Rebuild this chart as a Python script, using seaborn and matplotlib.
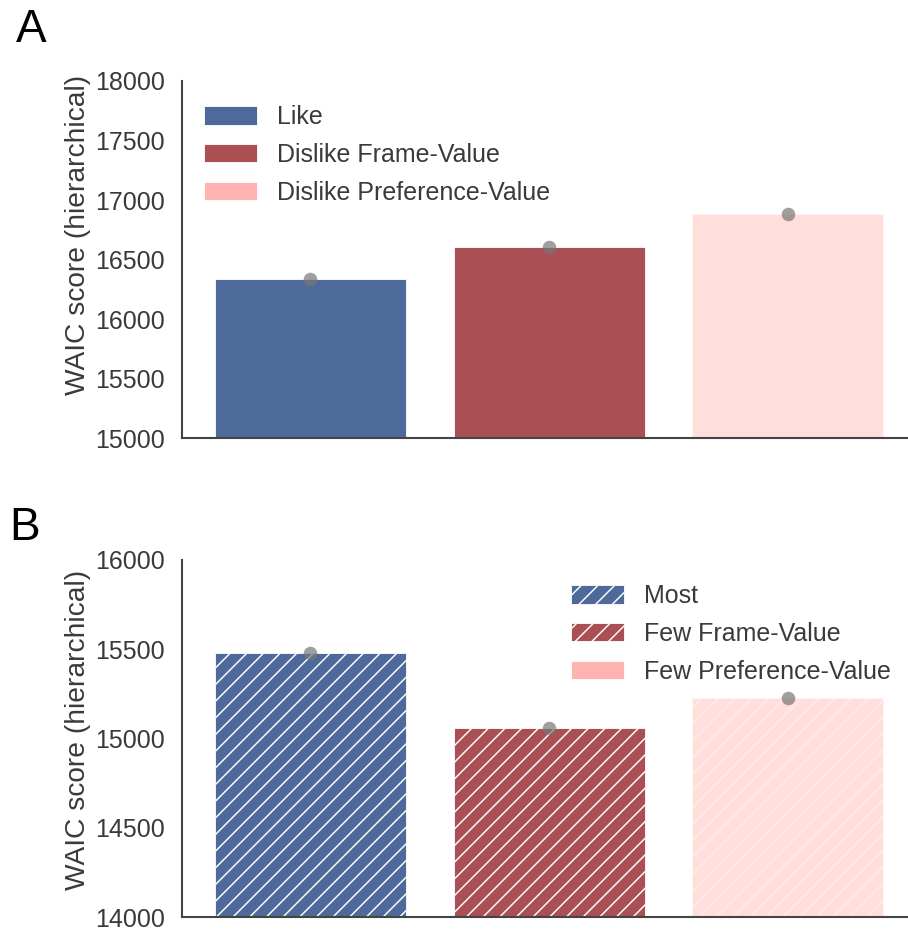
import matplotlib
matplotlib.use("Agg")
import matplotlib.pyplot as plt
from matplotlib.patches import Patch
import seaborn as sns
import pandas as pd

# WAIC scores for the hierarchical models
models_a = ["Like", "Dislike Frame-Value", "Dislike Preference-Value"]
waic_a = [16336, 16605, 16882]

models_b = ["Most", "Few Frame-Value", "Few Preference-Value"]
waic_b = [15479, 15059, 15227]

yticks_a = [15000, 15500, 16000, 16500, 17000, 17500, 18000]
yticks_b = [14000, 14500, 15000, 15500, 16000]

colors = ["#4D6A9A", "#AA5055", "#FFB3B0"]
bar_alpha = [1.0, 1.0, 0.43]

sns.set_theme(style="white")
plt.rcParams["font.family"] = ["Liberation Sans", "DejaVu Sans"]
plt.rcParams["hatch.linewidth"] = 0.7
plt.rcParams["hatch.color"] = "white"

fig = plt.figure(figsize=(908 / 150, 931 / 150), dpi=150)
ax_a = fig.add_axes([0.200, 0.5295, 0.799, 0.3835])
ax_b = fig.add_axes([0.200, 0.015, 0.799, 0.3835])

text_color = "#3a3a3a"


def draw_panel(ax, models, values, yticks, hatch, label_y):
    df = pd.DataFrame({"model": models, "waic": values})
    sns.barplot(data=df, x="model", y="waic", hue="model", palette=colors,
                order=models, hue_order=models, legend=False, width=0.8,
                saturation=1, edgecolor="white", linewidth=0.4, ax=ax)
    for patch, a in zip(ax.patches, bar_alpha):
        patch.set_alpha(a)
        if hatch:
            patch.set_hatch(hatch)
    sns.stripplot(data=df, x="model", y="waic", order=models, jitter=False,
                  color="#777777", alpha=0.7, size=6.5, linewidth=0, zorder=5,
                  ax=ax)
    ax.set_ylim(yticks[0], yticks[-1])
    ax.set_yticks(yticks)
    ax.set_yticklabels([str(t) for t in yticks], fontsize=12, color=text_color)
    ax.tick_params(axis="y", pad=8, length=0)
    ax.set_xticks([])
    ax.set_xlabel("")
    ax.set_ylabel("WAIC score (hierarchical)", fontsize=13.5, color=text_color)
    ax.yaxis.set_label_coords(-0.125, label_y)
    ax.set_xlim(-0.54, 2.50)
    sns.despine(ax=ax)
    for side in ("left", "bottom"):
        ax.spines[side].set_color("#444444")
        ax.spines[side].set_linewidth(1.0)


draw_panel(ax_a, models_a, waic_a, yticks_a, None, 0.569)
draw_panel(ax_b, models_b, waic_b, yticks_b, "///", 0.524)

handles_a = [Patch(facecolor=c, edgecolor="white", linewidth=0.4, label=m)
             for c, m in zip(colors, models_a)]
ax_a.legend(handles=handles_a, loc="upper left", bbox_to_anchor=(0.0, 0.995),
            frameon=False, fontsize=12, handlelength=2.1, handleheight=0.75,
            labelspacing=0.55, handletextpad=0.8, labelcolor=text_color)

hatches_b = ["///", "///", None]
handles_b = [Patch(facecolor=c, edgecolor="white", linewidth=0.4, hatch=h, label=m)
             for c, m, h in zip(colors, models_b, hatches_b)]
ax_b.legend(handles=handles_b, loc="upper right", bbox_to_anchor=(1.008, 0.995),
            frameon=False, fontsize=12, handlelength=2.1, handleheight=0.75,
            labelspacing=0.55, handletextpad=0.8, labelcolor=text_color)

fig.text(0.017, 0.944, "A", fontsize=22, color="black", va="bottom")
fig.text(0.010, 0.409, "B", fontsize=22, color="black", va="bottom")

fig.savefig("out.png", dpi=150)
